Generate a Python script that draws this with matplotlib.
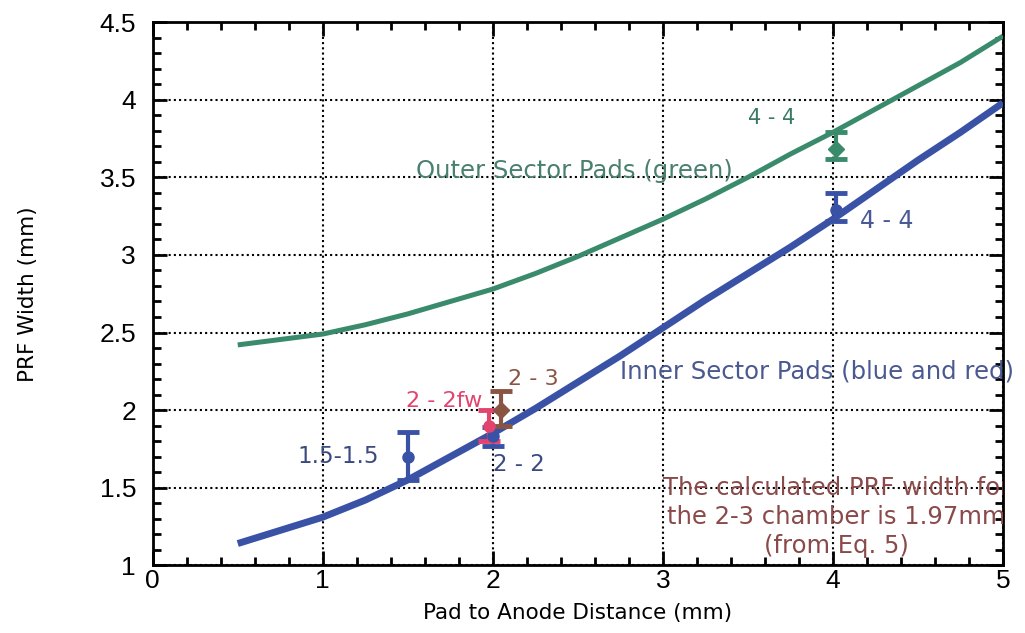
import matplotlib
matplotlib.use("Agg")
import matplotlib.pyplot as plt
from matplotlib.ticker import MultipleLocator, FuncFormatter

plt.rcParams['font.family'] = ['Liberation Sans', 'DejaVu Sans']

# Curves
x_curve = [0.5, 1.0, 1.25, 1.5, 1.75, 2.0, 2.25, 2.5, 2.75, 3.0, 3.25, 3.5,
           3.75, 4.0, 4.25, 4.5, 4.75, 5.0]
outer_width = [2.42, 2.49, 2.55, 2.62, 2.70, 2.78, 2.88, 2.99, 3.11, 3.23, 3.36, 3.50,
               3.65, 3.79, 3.94, 4.09, 4.24, 4.41]
inner_width = [1.14, 1.31, 1.42, 1.55, 1.70, 1.85, 2.01, 2.18, 2.35, 2.53, 2.71, 2.88,
               3.05, 3.23, 3.42, 3.61, 3.79, 3.98]

# Measured points
pt_labels = ["1.5-1.5", "2-2", "2-2fw", "2-3", "4-4 outer", "4-4 inner"]
pt_x = [1.5, 2.0, 1.98, 2.05, 4.02, 4.02]
pt_y = [1.70, 1.83, 1.90, 2.00, 3.68, 3.29]
pt_err_lo = [0.15, 0.06, 0.10, 0.10, 0.06, 0.07]
pt_err_hi = [0.16, 0.06, 0.10, 0.12, 0.11, 0.11]
pt_markers = ['o', 'o', 'o', 'D', 'D', 'o']

GREEN = "#3a8a6c"
BLUE = "#3a52a6"
PINK = "#e2446e"
BROWN = "#8a5442"
pt_colors = [BLUE, BLUE, PINK, BROWN, GREEN, BLUE]

ANN = ['DejaVu Sans']

fig = plt.figure(figsize=(10.25, 6.33), dpi=100)
ax = fig.add_axes([0.149, 0.107, 0.8295, 0.858])

ax.plot(x_curve, outer_width, color=GREEN, lw=3.6, solid_capstyle='butt',
        solid_joinstyle='round', zorder=3)
ax.plot(x_curve, inner_width, color=BLUE, lw=5, solid_capstyle='butt',
        solid_joinstyle='round', zorder=3)

for lab, x, y, lo, hi, c, m in zip(pt_labels, pt_x, pt_y, pt_err_lo, pt_err_hi,
                                   pt_colors, pt_markers):
    ax.errorbar([x], [y], yerr=[[lo], [hi]], fmt=m, color=c, ms=8,
                elinewidth=3, capsize=8, capthick=3.5, zorder=4)

ax.set_xlim(0, 5)
ax.set_ylim(1, 4.5)
ax.xaxis.set_major_locator(MultipleLocator(1))
ax.xaxis.set_minor_locator(MultipleLocator(0.2))
ax.yaxis.set_major_locator(MultipleLocator(0.5))
ax.yaxis.set_minor_locator(MultipleLocator(0.1))
fmt = FuncFormatter(lambda v, p: "%g" % v)
ax.xaxis.set_major_formatter(fmt)
ax.yaxis.set_major_formatter(fmt)
ax.tick_params(which='both', direction='in', top=True, right=True, width=2)
ax.tick_params(which='major', length=10, labelsize=19)
ax.tick_params(axis='x', which='major', pad=3)
ax.tick_params(axis='y', which='major', pad=12)
ax.tick_params(which='minor', length=6)
for s in ax.spines.values():
    s.set_linewidth(2)
ax.grid(True, which='major', color='black', linestyle=(0, (1, 1.5)), lw=1.5, zorder=1)

ax.set_xlabel("Pad to Anode Distance (mm)", fontsize=15.5, family=ANN, labelpad=7)
ax.set_ylabel("PRF Width (mm)", fontsize=15.5, family=ANN, labelpad=44)

ax.text(2.48, 3.54, "Outer Sector Pads (green)", color="#4a8070", fontsize=17.5,
        family=ANN, ha='center', va='center', zorder=5)
ax.text(3.64, 3.88, "4 - 4", color="#3a7a62", fontsize=15, family=ANN,
        ha='center', va='center')
ax.text(4.16, 3.22, "4 - 4", color="#4a5a98", fontsize=17, family=ANN,
        ha='left', va='center')
ax.text(2.75, 2.25, "Inner Sector Pads (blue and red)", color="#4a5a90", fontsize=17.5,
        family=ANN, ha='left', va='center', clip_on=False)
ax.text(2.09, 2.2, "2 - 3", color=BROWN, fontsize=16, family=ANN, ha='left', va='center')
ax.text(1.94, 2.06, "2 - 2fw", color=PINK, fontsize=16, family=ANN, ha='right', va='center')
ax.text(1.33, 1.70, "1.5-1.5", color="#3a4a80", fontsize=16.5, family=ANN,
        ha='right', va='center')
ax.text(2.0, 1.65, "2 - 2", color="#3a4a80", fontsize=16.5, family=ANN,
        ha='left', va='center')
ax.text(4.02, 1.31, "The calculated PRF width for\nthe 2-3 chamber is 1.97mm\n(from Eq. 5)",
        color="#8a4a4a", fontsize=17.5, family=ANN, ha='center', va='center',
        linespacing=1.25, clip_on=True, zorder=5)

fig.savefig("out.png", dpi=100)
